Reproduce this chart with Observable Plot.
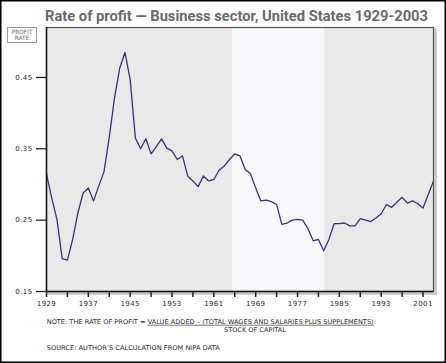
<!DOCTYPE html>
<html>
<head>
<meta charset="utf-8">
<script src="https://cdn.jsdelivr.net/npm/d3@7"></script>
<script src="https://cdn.jsdelivr.net/npm/@observablehq/plot@0.6"></script>
<style>
  html, body { margin: 0; padding: 0; background: #fff; overflow: hidden; }
  #chart { width: 446px; height: 363px; position: relative; }
</style>
</head>
<body>
<div id="chart"></div>
<script>
const years = [1929,1930,1931,1932,1933,1934,1935,1936,1937,1938,1939,1940,1941,1942,1943,1944,1945,1946,1947,1948,1949,1950,1951,1952,1953,1954,1955,1956,1957,1958,1959,1960,1961,1962,1963,1964,1965,1966,1967,1968,1969,1970,1971,1972,1973,1974,1975,1976,1977,1978,1979,1980,1981,1982,1983,1984,1985,1986,1987,1988,1989,1990,1991,1992,1993,1994,1995,1996,1997,1998,1999,2000,2001,2002,2003];
const profitRate = [0.315,0.281,0.251,0.196,0.194,0.223,0.260,0.288,0.295,0.277,0.298,0.318,0.366,0.421,0.463,0.485,0.447,0.365,0.350,0.364,0.343,0.353,0.364,0.351,0.347,0.335,0.340,0.312,0.305,0.297,0.312,0.305,0.307,0.320,0.326,0.335,0.343,0.340,0.321,0.315,0.295,0.277,0.278,0.276,0.272,0.244,0.246,0.250,0.251,0.250,0.238,0.221,0.223,0.207,0.223,0.245,0.245,0.246,0.242,0.242,0.252,0.250,0.248,0.253,0.259,0.272,0.268,0.275,0.282,0.274,0.277,0.273,0.267,0.286,0.305];
const xTicks = [1929,1933,1937,1941,1945,1949,1953,1957,1961,1965,1969,1973,1977,1981,1985,1989,1993,1997,2001];
const xLabels = [1929,1937,1945,1953,1961,1969,1977,1985,1993,2001];
const yTicks = [0.15,0.25,0.35,0.45];
const bandStart = [1964.6];
const bandEnd = [1982.2];

const titleText = "Rate of profit \u2014 Business sector, United States 1929-2003";
const noteLead = "NOTE: THE RATE OF PROFIT = ";
const noteNumerator = "VALUE ADDED \u2013 (TOTAL WAGES AND SALARIES PLUS SUPPLEMENTS)";
const noteDenominator = "STOCK OF CAPITAL";
const sourceText = "SOURCE: AUTHOR\u2019S CALCULATION FROM NIPA DATA";
const unitLabel = ["PROFIT", "RATE"];

const data = years.map((y, i) => ({year: y, rate: profitRate[i]}));
const band = bandStart.map((s, i) => ({start: s, end: bandEnd[i]}));

const plot = Plot.plot({
  width: 446,
  height: 363,
  marginLeft: 46,
  marginRight: 13,
  marginTop: 27,
  marginBottom: 72,
  style: {fontFamily: "DejaVu Sans", fontSize: "7px", color: "#2a2a2a", background: "transparent", overflow: "visible"},
  x: {domain: [1929, 2003]},
  y: {domain: [0.15, 0.52]},
  marks: [
    Plot.frame({stroke: "#c4c4c4", strokeWidth: 2.5, dx: 2, dy: 2}),
    Plot.frame({fill: "#e9e9e9"}),
    Plot.rect(band, {x1: "start", x2: "end", fill: "#f8f8fb"}),
    Plot.line(data, {x: "year", y: "rate", stroke: "#35357a", strokeWidth: 1.3}),
    Plot.frame({stroke: "#505050", strokeWidth: 1.2}),
    Plot.ruleX([1929], {stroke: "#111", strokeWidth: 1.5}),
    Plot.ruleY([0.15], {stroke: "#111", strokeWidth: 1.5}),
    Plot.axisX({ticks: xTicks, tickFormat: d => xLabels.includes(d) ? String(d) : "", tickSize: 6, tickPadding: 4, stroke: "#222", strokeWidth: 1.5, label: null}),
    Plot.axisY({ticks: yTicks, tickFormat: d => d.toFixed(2), tickSize: 10, tickPadding: 4, stroke: "#222", strokeWidth: 1.3, label: null})
  ]
});

document.getElementById("chart").appendChild(plot);
const svg = d3.select(plot);
svg.selectAll("g[aria-label='x-axis tick label'] text, g[aria-label='y-axis tick label'] text").attr("letter-spacing", "0.4");

// outer border
svg.append("rect").attr("x", 0.75).attr("y", 0.75).attr("width", 444.5).attr("height", 361.5)
  .attr("fill", "none").attr("stroke", "#000").attr("stroke-width", 1.5);

// title
svg.append("text").attr("x", 236.5).attr("y", 20.5).attr("text-anchor", "middle")
  .attr("font-family", "Roboto, 'Open Sans', sans-serif").attr("font-weight", "bold")
  .attr("font-size", 15).attr("fill", "#6a6a6a")
  .attr("textLength", 383).attr("lengthAdjust", "spacingAndGlyphs")
  .text(titleText);

// unit label box
svg.append("rect").attr("x", 7.5).attr("y", 27.5).attr("width", 29).attr("height", 15)
  .attr("fill", "#fff").attr("stroke", "#9a9a9a").attr("stroke-width", 1);
unitLabel.forEach((t, i) => {
  svg.append("text").attr("x", 22).attr("y", 34.2 + i * 6).attr("text-anchor", "middle")
    .attr("font-family", "DejaVu Sans").attr("font-size", 5.8).attr("fill", "#6a6a6a")
    .text(t);
});

// note
const note = svg.append("text").attr("x", 46.7).attr("y", 323.8).attr("text-anchor", "start")
  .attr("font-family", "DejaVu Sans").attr("font-size", 6.4).attr("fill", "#2a2a2a")
  .attr("textLength", 327).attr("lengthAdjust", "spacingAndGlyphs");
note.append("tspan").text(noteLead);
note.append("tspan").attr("text-decoration", "underline").text(noteNumerator);

svg.append("text").attr("x", 255).attr("y", 332.4).attr("text-anchor", "middle")
  .attr("font-family", "DejaVu Sans").attr("font-size", 6.4).attr("fill", "#2a2a2a")
  .attr("textLength", 62).attr("lengthAdjust", "spacingAndGlyphs")
  .text(noteDenominator);

svg.append("text").attr("x", 46.7).attr("y", 349.6).attr("text-anchor", "start")
  .attr("font-family", "DejaVu Sans").attr("font-size", 6.4).attr("fill", "#2a2a2a")
  .attr("textLength", 173).attr("lengthAdjust", "spacingAndGlyphs")
  .text(sourceText);
</script>
</body>
</html>
